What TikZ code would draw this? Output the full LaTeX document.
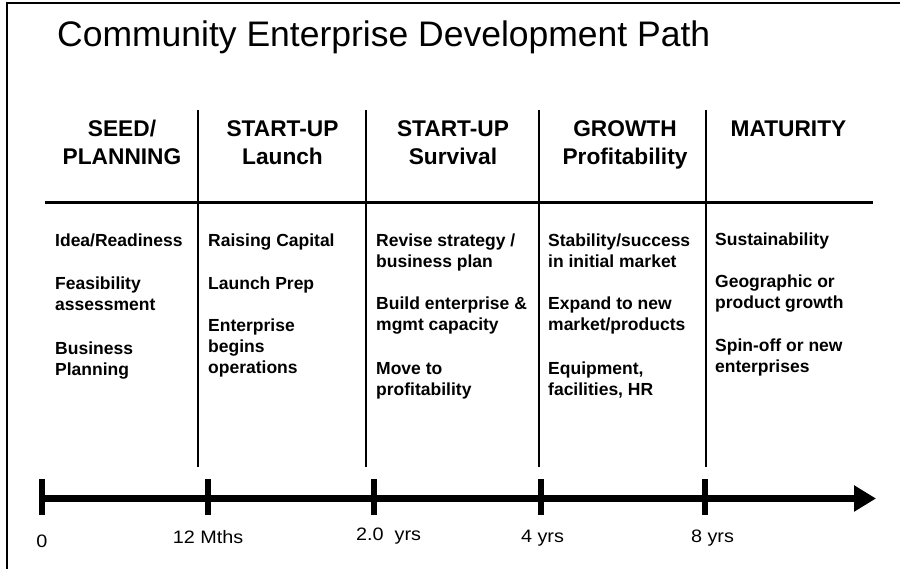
\documentclass[tikz,border=0pt]{standalone}
\usepackage{fontspec}
\setmainfont{Liberation Sans}
\newfontfamily\axisfont[FakeStretch=1.1]{Liberation Sans}
\usetikzlibrary{arrows.meta}
\newcommand{\mylstack}[1]{\begin{tabular}[t]{@{}l@{}}#1\end{tabular}}
\newcommand{\mycstack}[1]{\begin{tabular}[t]{@{}c@{}}#1\end{tabular}}
\begin{document}
\begin{tikzpicture}[x=1pt,y=-1pt,
  titletext/.style={font=\fontsize{35.5}{40}\selectfont, anchor=base west, inner sep=0pt},
  phase/.style={font=\fontsize{22.7}{28}\selectfont\bfseries, anchor=base, inner sep=0pt},
  item/.style={font=\fontsize{17.5}{21}\selectfont\bfseries, anchor=base west, inner sep=0pt},
  tlabel/.style={font=\axisfont\fontsize{18}{21}\selectfont, anchor=base, inner sep=0pt},
  frameline/.style={line width=2pt},
  divider/.style={line width=2pt},
  rule/.style={line width=3pt},
  axis/.style={line width=7pt, -{Triangle[length=22pt,width=25pt]}},
  tick/.style={line width=6pt},
]
\useasboundingbox (0,0) rectangle (900,569);
\fill[white] (0,0) rectangle (900,569);
% frame
\draw[frameline] (7,569) -- (7,3) -- (900,3);
% title
\node[titletext] (title) at (57,47) {Community Enterprise Development Path};
% header rule and column dividers
\draw[rule] (45,203) -- (873,203);
\foreach \x in {198,366,539,706} \draw[divider] (\x,110) -- (\x,467);
% phase headers
\node[phase] (h1) at (122,137) {\mycstack{SEED/\\PLANNING}};
\node[phase] (h2) at (282.5,137) {\mycstack{START-UP\\Launch}};
\node[phase] (h3) at (453,137) {\mycstack{START-UP\\Survival}};
\node[phase] (h4) at (625,137) {\mycstack{GROWTH\\Profitability}};
\node[phase] (h5) at (788.5,137) {MATURITY};
% column 1
\node[item] (a1) at (55,247) {Idea/Readiness};
\node[item] (a2) at (55,290) {\mylstack{Feasibility\\assessment}};
\node[item] (a3) at (55,355) {\mylstack{Business\\Planning}};
% column 2
\node[item] (b1) at (208,247) {Raising Capital};
\node[item] (b2) at (208,290) {Launch Prep};
\node[item] (b3) at (208,332) {\mylstack{Enterprise\\begins\\operations}};
% column 3
\node[item] (c1) at (376,247) {\mylstack{Revise strategy /\\business plan}};
\node[item] (c2) at (376,310) {\mylstack{Build enterprise \&\\mgmt capacity}};
\node[item] (c3) at (376,374) {\mylstack{Move to\\profitability}};
% column 4
\node[item] (d1) at (548,247) {\mylstack{Stability/success\\in initial market}};
\node[item] (d2) at (548,310) {\mylstack{Expand to new\\market/products}};
\node[item] (d3) at (548,374) {\mylstack{Equipment,\\facilities, HR}};
% column 5
\node[item] (e1) at (715,246) {Sustainability};
\node[item] (e2) at (715,288) {\mylstack{Geographic or\\product growth}};
\node[item] (e3) at (715,352) {\mylstack{Spin-off or new\\enterprises}};
% time axis
\coordinate (t0) at (42,498.5);
\coordinate (t1) at (207.5,498.5);
\coordinate (t2) at (373.5,498.5);
\coordinate (t3) at (541,498.5);
\coordinate (t4) at (705,498.5);
\coordinate (tip) at (876,498.5);
\draw[axis] (t0) -- (tip);
\foreach \t in {t0,t1,t2,t3,t4} \draw[tick] ([yshift=-16.5pt]\t) -- ([yshift=19.5pt]\t);
\node[tlabel] (l0) at (42,547) {0};
\node[tlabel] (l1) at (208,543) {12 Mths};
\node[tlabel, anchor=base west] (l2) at (356,540) {2.0\ \ yrs};
\node[tlabel] (l3) at (542.5,542) {4 yrs};
\node[tlabel] (l4) at (712.5,542) {8 yrs};
\end{tikzpicture}
\end{document}
